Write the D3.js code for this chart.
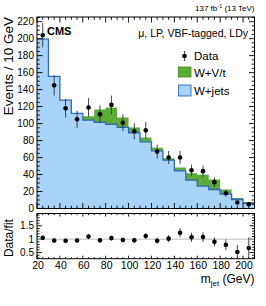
<!DOCTYPE html>
<html><head><meta charset="utf-8">
<script src="https://cdn.jsdelivr.net/npm/d3@7"></script>
<style>body{margin:0;background:#fff}svg{display:block;font-family:"Liberation Sans",Arial,sans-serif}</style>
</head><body><svg id="c" width="266" height="306"></svg>
<script>
const binEdges = [20,30,40,50,60,70,80,90,100,110,120,130,140,150,160,170,180,190,200,210];
const wjets = [199.5,155.7,127.7,112.0,104.0,101.4,99.0,95.5,89.2,78.5,67.9,57.0,44.3,33.4,26.3,22.4,16.9,10.6,6.2];
const total = [199.5,155.7,127.7,112.3,108.6,116.7,119.0,107.3,95.5,83.7,71.5,59.3,48.3,41.6,39.6,34.2,22.4,12.5,7.8];
const dataVals = [204,145,118,105,119,111,122,101,91,92,67,60,60,45,44,31,18,7,5];
const dataErr = [14.3,12.0,10.9,10.2,10.9,10.5,11.0,10.0,9.5,9.6,8.2,7.7,7.7,6.7,6.6,5.6,4.2,2.6,2.2];
const ratioVals = [1.05,0.95,0.94,0.95,1.10,0.96,1.04,0.97,0.96,1.12,0.94,1.02,1.24,1.07,1.08,0.90,0.79,0.52,0.67];
const ratioErr = [0.07,0.08,0.09,0.09,0.10,0.09,0.09,0.09,0.10,0.11,0.11,0.13,0.17,0.17,0.18,0.17,0.20,0.26,0.40];
const yTicks = [0,20,40,60,80,100,120,140,160,180,200,220];
const xTicks = [20,40,60,80,100,120,140,160,180,200];
const rTicks = [0.5,1,1.5];

const svg = d3.select("#c");
const L=37, R=254.5, T=17, B=208.5, RT=213.5, RB=258.7;
const x = d3.scaleLinear().domain([20,210]).range([L,R]);
const y = d3.scaleLinear().domain([0,225.5]).range([B,T]);
const yr = d3.scaleLinear().domain([0.27,1.96]).range([RB,RT]);
const centers = binEdges.slice(0,-1).map((e,i)=>(e+binEdges[i+1])/2);

function stepPts(vals){ const p = vals.map((v,i)=>[binEdges[i],v]); p.push([binEdges[binEdges.length-1], vals[vals.length-1]]); return p; }
const area = d3.area().x(d=>x(d[0])).y0(y(0)).y1(d=>y(d[1])).curve(d3.curveStepAfter);
const line = d3.line().x(d=>x(d[0])).y(d=>y(d[1])).curve(d3.curveStepAfter);

const GREEN="#5aab38", BLUE="#a8d3fb", BLUEL="#2f68c0";
svg.append("path").attr("d",area(stepPts(total))).attr("fill",GREEN);
svg.append("path").attr("d",area(stepPts(wjets))).attr("fill",BLUE);
svg.append("path").attr("d",line(stepPts(wjets))).attr("fill","none").attr("stroke",BLUEL).attr("stroke-width",1.3);

function ticksY(scale, majors, minors, x0, x1, lenMaj, lenMin){
  const g = svg.append("g").attr("stroke","#000").attr("stroke-width",0.9);
  majors.forEach(v=>{g.append("line").attr("x1",x0).attr("x2",x0+lenMaj).attr("y1",scale(v)).attr("y2",scale(v));
    g.append("line").attr("x1",x1).attr("x2",x1-lenMaj).attr("y1",scale(v)).attr("y2",scale(v));});
  minors.forEach(v=>{g.append("line").attr("x1",x0).attr("x2",x0+lenMin).attr("y1",scale(v)).attr("y2",scale(v));
    g.append("line").attr("x1",x1).attr("x2",x1-lenMin).attr("y1",scale(v)).attr("y2",scale(v));});
}
function ticksX(majors, minors, y0, y1, lenMaj, lenMin){
  const g = svg.append("g").attr("stroke","#000").attr("stroke-width",0.9);
  majors.forEach(v=>{g.append("line").attr("y1",y0).attr("y2",y0-lenMaj).attr("x1",x(v)).attr("x2",x(v));
    g.append("line").attr("y1",y1).attr("y2",y1+lenMaj).attr("x1",x(v)).attr("x2",x(v));});
  minors.forEach(v=>{g.append("line").attr("y1",y0).attr("y2",y0-lenMin).attr("x1",x(v)).attr("x2",x(v));
    g.append("line").attr("y1",y1).attr("y2",y1+lenMin).attr("x1",x(v)).attr("x2",x(v));});
}
const yMinor = d3.range(0,226,5).filter(v=>v%20!==0);
const xMinor = d3.range(20,211,5).filter(v=>v%20!==0);
ticksY(y, yTicks, yMinor, L, R, 5.5, 2.8);
ticksX(xTicks, xMinor, B, T, 5.5, 2.8);
const rMinor = d3.range(0.3,1.96,0.1).map(v=>Math.round(v*10)/10).filter(v=>Math.abs(v*2-Math.round(v*2))>1e-6);
ticksY(yr, rTicks, rMinor, L, R, 5, 2.5);
ticksX(xTicks, xMinor, RB, RT, 3, 1.6);

const gd = svg.append("g");
dataVals.forEach((v,i)=>{
  gd.append("line").attr("x1",x(centers[i])).attr("x2",x(centers[i])).attr("y1",y(v-dataErr[i])).attr("y2",y(v+dataErr[i])).attr("stroke","#333").attr("stroke-width",0.9);
  gd.append("circle").attr("cx",x(centers[i])).attr("cy",y(v)).attr("r",2.3).attr("fill","#000");
});

svg.append("line").attr("x1",L).attr("x2",R).attr("y1",yr(1)).attr("y2",yr(1)).attr("stroke","#bbb").attr("stroke-width",1);
ratioVals.forEach((v,i)=>{
  svg.append("line").attr("x1",x(centers[i])).attr("x2",x(centers[i])).attr("y1",yr(v-ratioErr[i])).attr("y2",yr(Math.min(v+ratioErr[i],1.96))).attr("stroke","#333").attr("stroke-width",0.9);
  svg.append("circle").attr("cx",x(centers[i])).attr("cy",yr(v)).attr("r",2.3).attr("fill","#000");
});

svg.append("rect").attr("x",L).attr("y",T).attr("width",R-L).attr("height",B-T).attr("fill","none").attr("stroke","#000").attr("stroke-width",1);
svg.append("rect").attr("x",L).attr("y",RT).attr("width",R-L).attr("height",RB-RT).attr("fill","none").attr("stroke","#000").attr("stroke-width",1);

const tl = svg.append("g").attr("font-size","10px").attr("fill","#000");
yTicks.forEach(v=>tl.append("text").attr("x",L-3).attr("y",y(v)).attr("dy","0.35em").attr("text-anchor","end").text(v));
rTicks.forEach(v=>tl.append("text").attr("x",L-3).attr("y",yr(v)).attr("dy","0.35em").attr("text-anchor","end").text(v));
xTicks.forEach(v=>tl.append("text").attr("x",x(v)+1).attr("y",RB+10.5).attr("text-anchor","middle").attr("font-size","10.5px").text(v));

svg.append("text").attr("transform",`translate(13,${T}) rotate(-90)`).attr("text-anchor","end").attr("font-size","13.5px").text("Events / 10 GeV");
svg.append("text").attr("transform",`translate(13,${(RT+RB)/2+2}) rotate(-90)`).attr("text-anchor","middle").attr("font-size","12px").text("Data/fit");
const xt = svg.append("text").attr("x",R).attr("y",283).attr("text-anchor","end").attr("font-size","12px");
xt.append("tspan").text("m");
xt.append("tspan").attr("font-size","8px").attr("dy",3).text("jet");
xt.append("tspan").attr("dy",-3).text(" (GeV)");

const lumi = svg.append("text").attr("x",R).attr("y",11).attr("text-anchor","end").attr("font-size","8px");
lumi.append("tspan").text("137 fb");
lumi.append("tspan").attr("font-size","5.5px").attr("dy",-3).text("-1");
lumi.append("tspan").attr("dy",3).text(" (13 TeV)");
svg.append("text").attr("x",47).attr("y",35).attr("font-size","11px").attr("font-weight","bold").text("CMS");
svg.append("text").attr("x",248).attr("y",37).attr("text-anchor","end").attr("font-size","10.5px").text("\u03bc, LP, VBF-tagged, LDy");

const lg = svg.append("g");
lg.append("line").attr("x1",184.5).attr("x2",184.5).attr("y1",51).attr("y2",61).attr("stroke","#333").attr("stroke-width",0.9);
lg.append("circle").attr("cx",184.5).attr("cy",56).attr("r",2.3).attr("fill","#000");
lg.append("rect").attr("x",178.5).attr("y",67).attr("width",12.5).attr("height",10).attr("fill",GREEN).attr("stroke","#3f8a25").attr("stroke-width",0.8);
lg.append("rect").attr("x",178.5).attr("y",85).attr("width",12.5).attr("height",11).attr("fill",BLUE).attr("stroke",BLUEL).attr("stroke-width",0.9);
lg.append("text").attr("x",194).attr("y",60).attr("font-size","11.5px").text("Data");
lg.append("text").attr("x",194).attr("y",76.5).attr("font-size","11.5px").text("W+V/t");
lg.append("text").attr("x",194).attr("y",95).attr("font-size","11.5px").text("W+jets");
</script></body></html>
